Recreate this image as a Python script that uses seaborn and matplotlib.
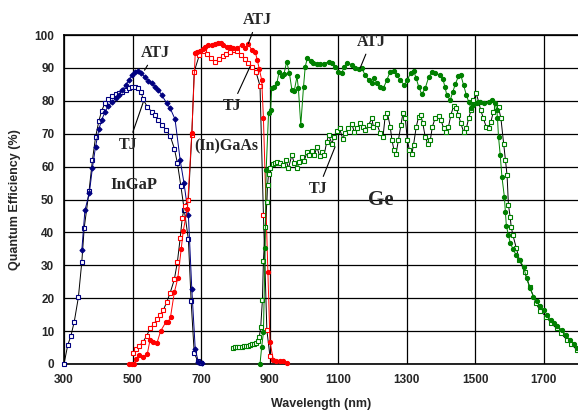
import matplotlib
matplotlib.use("Agg")
import matplotlib.pyplot as plt
import seaborn as sns
import numpy as np
import pandas as pd

# ---- data (wavelength nm, QE %) ----
ingap_atj_x = [352, 361, 374, 383, 392, 402, 410, 420, 429, 441, 451, 461, 470, 480, 490, 499,
               507, 517, 525, 536, 546, 556, 566, 575, 585, 600, 610, 624, 639, 650, 663, 673,
               683, 692, 702]
ingap_atj_y = [34.6, 46.7, 52.0, 59.7, 66.0, 71.4, 74.2, 76.7, 78.4, 79.7, 80.7, 81.8, 83.3, 84.8,
               86.3, 87.8, 88.8, 89.2, 88.6, 87.1, 86.1, 85.3, 84.3, 83.3, 81.8, 79.2, 77.7, 74.4,
               62.0, 55.1, 45.3, 22.7, 4.5, 0.7, 0.2]

ingap_tj_x = [300, 311, 320, 330, 342, 352, 359, 373, 383, 392, 402, 410, 420, 429, 441, 451,
              461, 470, 480, 490, 499, 508, 517, 525, 531, 543, 556, 566, 575, 587, 598, 610,
              622, 631, 641, 651, 663, 671, 680, 690, 700]
ingap_tj_y = [0.0, 5.8, 8.5, 12.9, 20.3, 31.1, 41.4, 52.5, 62.0, 68.9, 74.0, 77.0, 79.4, 80.4,
              81.5, 82.0, 82.5, 82.8, 83.3, 83.8, 84.3, 84.1, 83.8, 82.8, 80.4, 78.2, 76.7, 75.7,
              74.2, 72.6, 71.1, 69.3, 65.5, 61.0, 54.1, 46.8, 37.9, 19.1, 3.4, 0.9, 0.3]

gaas_atj_x = [490, 497, 504, 510, 520, 531, 543, 551, 561, 571, 582, 597, 604, 611, 622, 632,
              642, 648, 660, 673, 683, 689, 697, 705, 712, 721, 731, 741, 750, 757, 765, 775,
              785, 794, 806, 819, 828, 838, 848, 858, 864, 870, 877, 882, 895, 901, 911, 920,
              930, 940, 950]
gaas_atj_y = [0.0, 0.0, 0.0, 1.4, 2.7, 2.0, 3.0, 7.3, 6.8, 6.3, 10.0, 12.7, 12.7, 14.4, 21.8,
              26.0, 34.9, 40.5, 47.0, 70.3, 94.6, 94.9, 95.2, 95.7, 96.5, 97.0, 97.0, 97.3, 97.7,
              97.5, 97.0, 96.5, 96.5, 96.0, 96.2, 97.0, 96.0, 97.3, 95.4, 94.9, 92.4, 89.6, 86.3,
              74.7, 28.0, 6.8, 1.2, 1.0, 0.8, 0.9, 0.3]

gaas_tj_x = [500, 510, 520, 531, 541, 551, 563, 571, 580, 590, 600, 610, 622, 631, 639, 645,
             652, 663, 673, 680, 695, 709, 717, 728, 741, 752, 763, 773, 783, 795, 806, 817,
             828, 838, 848, 860, 872, 882, 892, 901]
gaas_tj_y = [3.2, 4.5, 5.5, 6.8, 8.5, 10.8, 12.2, 13.6, 14.9, 16.4, 18.9, 21.7, 25.7, 31.1,
             38.2, 44.3, 48.0, 50.0, 69.6, 88.9, 93.9, 95.2, 94.2, 92.9, 91.9, 92.6, 93.6, 94.2,
             94.9, 95.3, 95.2, 93.9, 92.6, 91.4, 90.4, 88.9, 84.5, 45.3, 10.3, 2.4]

ge_atj_x = [872, 877, 882, 887, 890, 897, 903, 906, 914, 921, 928, 936, 942, 950, 958, 965,
            972, 980, 984, 991, 999, 1004, 1010, 1020, 1028, 1038, 1048, 1059, 1072, 1082, 1091,
            1101, 1111, 1118, 1127, 1140, 1150, 1160, 1169, 1179, 1189, 1198, 1206, 1213, 1223,
            1232, 1242, 1252, 1262, 1271, 1281, 1293, 1302, 1312, 1320, 1328, 1335, 1344, 1354,
            1364, 1374, 1383, 1396, 1406, 1412, 1417, 1427, 1435, 1442, 1451, 1458, 1466, 1474,
            1481, 1488, 1495, 1505, 1515, 1526, 1539, 1549, 1558, 1563, 1565, 1568, 1573, 1578,
            1585, 1588, 1591, 1597, 1602, 1610, 1620, 1630, 1641, 1650, 1660, 1670, 1680, 1690,
            1700, 1710, 1720, 1729, 1740, 1753, 1765, 1777, 1788, 1797]
ge_atj_y = [0.0, 5.3, 9.6, 35.2, 59.0, 76.4, 77.2, 83.8, 84.1, 85.3, 88.9, 87.4, 88.2, 91.9,
            88.3, 83.3, 83.1, 87.4, 83.8, 72.6, 84.3, 90.4, 92.9, 92.2, 91.6, 91.3, 91.1, 91.3,
            91.9, 91.4, 90.4, 88.9, 88.6, 90.4, 91.6, 90.9, 89.9, 89.6, 89.9, 87.8, 86.3, 85.5,
            86.8, 85.3, 84.1, 83.8, 86.3, 88.9, 89.2, 87.8, 86.3, 84.8, 86.3, 88.6, 89.2, 86.8,
            84.3, 82.0, 83.8, 87.1, 88.9, 88.6, 87.8, 86.5, 84.1, 81.8, 80.2, 82.8, 85.1, 87.4,
            87.8, 84.8, 81.8, 79.7, 77.7, 78.7, 79.2, 79.7, 79.4, 79.7, 80.2, 79.4, 77.2, 74.7,
            69.1, 63.5, 56.9, 50.9, 46.3, 41.9, 39.2, 36.9, 35.0, 33.0, 31.5, 29.6, 26.0, 23.0,
            20.5, 19.0, 17.5, 16.4, 15.0, 13.5, 12.4, 11.5, 10.3, 8.8, 7.3, 6.0, 4.8]

ge_tj_x = [794, 800, 806, 812, 818, 824, 830, 836, 842, 848, 854, 860, 865, 870, 874, 879,
           882, 887, 892, 894, 897, 901, 909, 916, 923, 931, 940, 948, 955, 965, 972, 980, 987,
           994, 1001, 1009, 1016, 1023, 1031, 1038, 1046, 1052, 1059, 1067, 1072, 1082, 1088,
           1096, 1104, 1114, 1120, 1130, 1140, 1147, 1155, 1164, 1172, 1179, 1189, 1198, 1203,
           1213, 1223, 1231, 1237, 1244, 1252, 1257, 1263, 1269, 1276, 1283, 1289, 1296, 1302,
           1308, 1315, 1320, 1328, 1335, 1341, 1347, 1354, 1361, 1369, 1375, 1383, 1393, 1400,
           1408, 1415, 1422, 1429, 1437, 1445, 1451, 1458, 1466, 1474, 1481, 1488, 1495, 1503,
           1510, 1516, 1524, 1532, 1539, 1546, 1553, 1561, 1568, 1575, 1583, 1588, 1593, 1597,
           1602, 1605, 1610, 1620, 1629, 1644, 1659, 1678, 1690, 1708, 1720, 1738, 1750, 1768,
           1780, 1797]
ge_tj_y = [5.0, 5.1, 5.2, 5.2, 5.3, 5.4, 5.5, 5.6, 5.8, 6.0, 6.1, 6.3, 7.1, 8.3, 11.1, 19.5,
           31.3, 41.7, 49.1, 54.4, 57.9, 59.5, 60.8, 61.2, 61.5, 61.0, 60.5, 62.0, 59.5, 63.5,
           61.0, 59.5, 61.5, 63.0, 61.8, 64.3, 63.5, 64.8, 63.5, 66.0, 63.2, 64.5, 63.5, 67.6,
           69.6, 67.0, 69.1, 70.9, 71.6, 68.3, 70.3, 71.6, 72.9, 70.6, 71.6, 73.2, 72.1, 71.1,
           72.6, 74.7, 72.1, 73.0, 70.1, 69.1, 75.0, 76.2, 72.1, 68.1, 65.0, 63.8, 68.1, 72.6,
           76.2, 74.7, 68.1, 65.0, 63.8, 66.6, 72.1, 75.2, 75.7, 73.2, 69.1, 67.0, 68.1, 72.1,
           74.7, 75.4, 74.2, 71.6, 70.6, 72.1, 75.7, 78.4, 77.7, 75.7, 73.2, 70.6, 71.6, 74.7,
           77.2, 80.2, 82.3, 79.7, 77.2, 74.7, 72.1, 71.6, 73.7, 76.7, 78.2, 78.0, 74.7, 66.9,
           62.0, 57.4, 48.3, 44.8, 41.7, 39.2, 35.2, 31.6, 28.1, 23.5, 18.4, 16.0, 14.4, 12.5,
           10.8, 9.3, 7.3, 6.0, 4.3]

xticks = [300, 500, 700, 900, 1100, 1300, 1500, 1700]
yticks = list(range(0, 101, 10))

navy = "#000080"
red = "#ff0000"
green = "#008000"

sns.set_style("white")
plt.rcParams['font.family'] = ['Liberation Sans', 'DejaVu Sans']

fig = plt.figure(figsize=(5.78, 4.12), dpi=100)
ax = fig.add_axes([64 / 578, 48 / 412, 514 / 578, 329 / 412])

def draw(xs, ys, line_col, marker, ms, face, edge):
    sns.lineplot(x=xs, y=ys, ax=ax, color=line_col, lw=0.7, marker=marker, markersize=ms,
                 markerfacecolor=face, markeredgecolor=edge, markeredgewidth=0.8,
                 estimator=None, sort=False, clip_on=False, zorder=3)

draw(ingap_tj_x, ingap_tj_y, "black", "s", 3.2, "white", navy)
draw(ingap_atj_x, ingap_atj_y, navy, "D", 2.6, navy, navy)
draw(gaas_tj_x, gaas_tj_y, "black", "s", 3.2, "white", red)
draw(gaas_atj_x, gaas_atj_y, red, "o", 3.0, red, red)
draw(ge_tj_x, ge_tj_y, "black", "s", 3.2, "white", green)
draw(ge_atj_x, ge_atj_y, green, "o", 3.0, green, green)

ax.set_xlim(300, 1800)
ax.set_ylim(0, 100)
ax.set_xticks(xticks)
ax.set_yticks(yticks)
ax.grid(True, color="black", lw=0.9)
ax.set_axisbelow(True)
for s in ["left", "bottom", "top"]:
    ax.spines[s].set_color("black")
    ax.spines[s].set_linewidth(1.2)
ax.spines["right"].set_visible(False)
ax.tick_params(length=0, labelsize=8.5, pad=7)
for lab in ax.get_xticklabels() + ax.get_yticklabels():
    lab.set_fontweight("bold")
ax.set_xlabel("Wavelength (nm)", fontsize=9, fontweight="bold", labelpad=9)
ax.set_ylabel("Quantum Efficiency (%)", fontsize=9, fontweight="bold", labelpad=10)

serif = dict(family="Liberation Serif", fontweight="bold", ha="center", va="center")
arrow = dict(arrowstyle="-", color="black", lw=0.8, shrinkA=1, shrinkB=0)

ax.annotate("ATJ", xy=(535, 89.3), xytext=(566, 94.6), fontsize=11.5, arrowprops=arrow, **serif)
ax.annotate("TJ", xy=(531, 79.5), xytext=(488, 66.6), fontsize=11.5, arrowprops=arrow, **serif)
ax.text(504, 54.4, "InGaP", fontsize=12, **serif)
ax.text(773, 66, "(In)GaAs", fontsize=11.5, **serif)
ax.annotate("ATJ", xy=(838, 97.4), xytext=(864, 104.6), fontsize=11.5, arrowprops=arrow,
            annotation_clip=False, **serif)
ax.annotate("TJ", xy=(843, 90.4), xytext=(790, 78.4), fontsize=11.5, arrowprops=arrow, **serif)
ax.annotate("ATJ", xy=(1164, 89.9), xytext=(1196, 98), fontsize=11.5, arrowprops=arrow, **serif)
ax.annotate("TJ", xy=(1091, 66), xytext=(1042, 53.2), fontsize=11.5, arrowprops=arrow, **serif)
ax.text(1223, 49.7, "Ge", fontsize=15, **serif)

fig.savefig("out.png", dpi=100)
